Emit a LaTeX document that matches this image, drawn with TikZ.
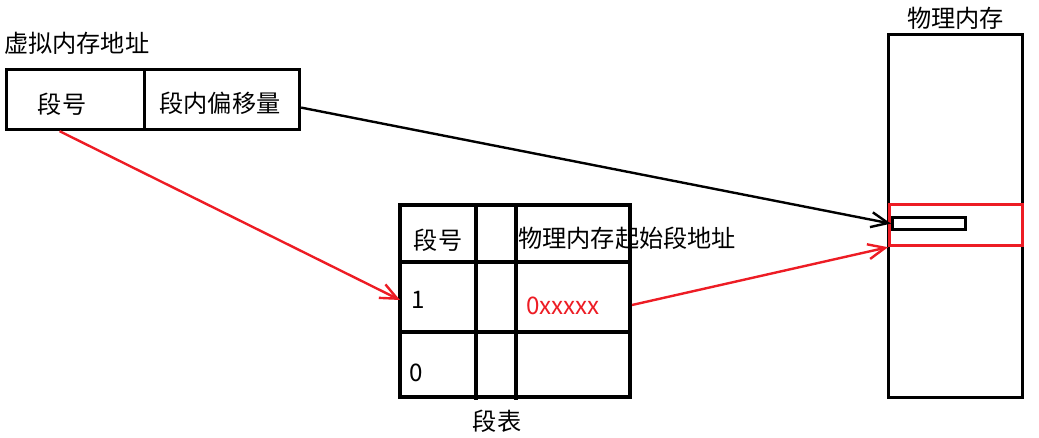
\documentclass[tikz,border=0pt]{standalone}
\usepackage{fontspec}
\setmainfont{Noto Sans CJK SC}
\usetikzlibrary{arrows.meta, positioning}
\definecolor{paintred}{RGB}{237,28,36}

\begin{document}
\begin{tikzpicture}[
                x=1pt, y=-1pt,
                box/.style={draw, line width=3.2pt, anchor=north west, inner sep=0pt},
                lbl/.style={font=\fontsize{24.2}{27}\selectfont, inner sep=0pt},
                link/.style={-{Straight Barb[length=17pt, width=15pt, line width=2.4pt]}, line width=2.4pt}
            ]
                \useasboundingbox (0,0) rectangle (1039,437);

                % virtual address
                \node[lbl, anchor=west] (vtitle) at (4,43) {虚拟内存地址};
                \node[box, minimum width=138pt, minimum height=60pt] (vseg) at (5,68) {};
                \node[box, minimum width=155pt, minimum height=60pt] (voff) at (143,68) {};
                \node[lbl] (vseglbl) at (62,104) {段号};
                \node[lbl] (vofflbl) at (220,103) {段内偏移量};

                % segment table
                \draw[line width=3.2pt] (400,205) rectangle (630,397);
                \draw[line width=3.2pt] (476,205) -- (476,400);
                \draw[line width=3.2pt] (516,205) -- (516,400);
                \draw[line width=3.2pt] (400,262) -- (630,262);
                \draw[line width=3.2pt] (398,332) -- (630,332);
                \node[lbl] (thead) at (438,240) {段号};
                \node[lbl, anchor=west] (tbase) at (518,238) {物理内存起始段地址};
                \node[lbl] (tone) at (418,300) {1};
                \node[lbl, text=paintred] (taddr) at (563,306) {0xxxxx};
                \node[lbl] (tzero) at (416,373) {0};
                \node[lbl] (ttitle) at (497,421) {段表};
                \coordinate (row1) at (400,300);
                \coordinate (row1out) at (632,305);

                % physical memory
                \node[box, minimum width=134pt, minimum height=363pt] (mem) at (887,33) {};
                \node[lbl, above=3pt of mem] (memlbl) {物理内存};
                \node[box, draw=paintred, minimum width=133pt, minimum height=41pt] (segfrm) at (888,203) {};
                \node[box, minimum width=73pt, minimum height=12pt] (unit) at (891,216) {};

                \draw[link] ([yshift=-8pt]voff.east) -- (unit.west);
                \draw[link, paintred] ([xshift=-16pt]vseg.south) -- (row1);
                \draw[link, paintred] (row1out) -- (segfrm.south west);
            \end{tikzpicture}
\end{document}
